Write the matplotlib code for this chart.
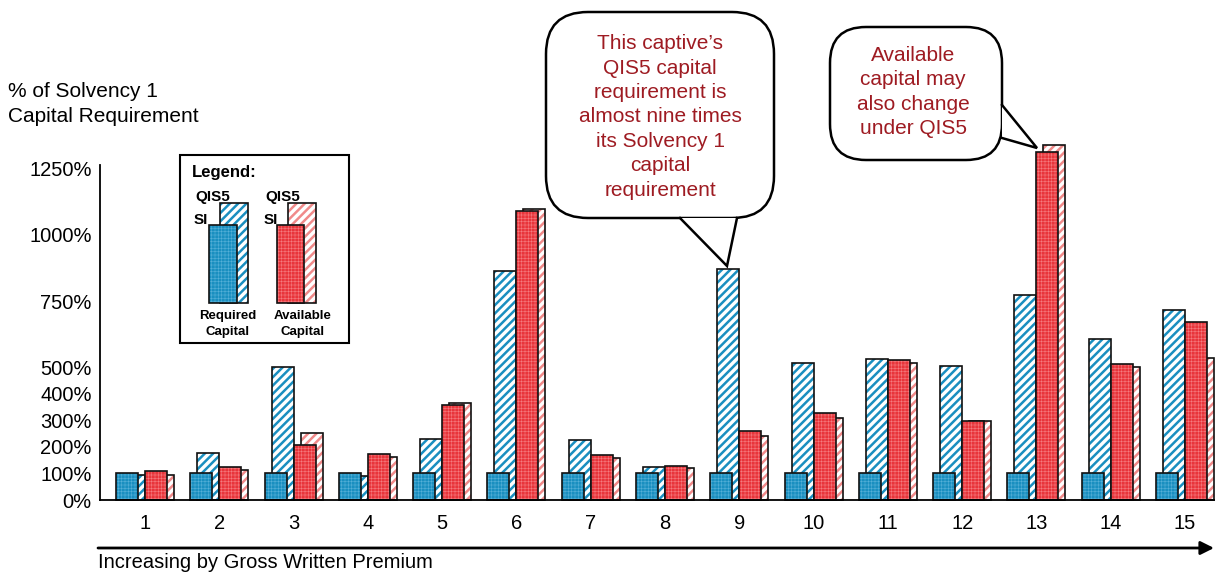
import numpy as np
import matplotlib
matplotlib.use("Agg")
import matplotlib.pyplot as plt
from matplotlib.patches import Rectangle, FancyBboxPatch, Polygon

plt.rcParams['font.family'] = ['Liberation Sans', 'DejaVu Sans']
plt.rcParams['hatch.linewidth'] = 1.8

# captives, ordered by gross written premium
captives = [str(i) for i in range(1, 16)]
si_required = [100, 100, 100, 100, 100, 100, 100, 100, 100, 100, 100, 100, 100, 100, 100]
qis5_required = [95, 178, 503, 92, 230, 864, 226, 125, 872, 518, 532, 505, 773, 608, 717]
si_available = [110, 125, 208, 174, 358, 1090, 170, 128, 262, 328, 528, 298, 1313, 513, 672]
qis5_available = [95, 113, 253, 162, 365, 1098, 158, 120, 243, 308, 517, 298, 1340, 502, 536]
ytick_vals = [0, 100, 200, 300, 400, 500, 750, 1000, 1250]

BLUE = '#1a8fc0'
BLUE_GRID = '#55b0d8'
RED = '#e8353b'
RED_GRID = '#f57b7f'
PINK = '#f08a8a'
TXT_RED = '#9e1b22'

W, H = 1215, 572
fig = plt.figure(figsize=(W / 100, H / 100), dpi=100)
ax = fig.add_axes([100 / W, 72 / H, (W - 100) / W, (500 - 165) / H])

x = np.arange(1, 16)
bw = 0.296


def set_hlw(patches, lw):
    for p in patches:
        if hasattr(p, 'set_hatch_linewidth'):
            p.set_hatch_linewidth(lw)


def solid_bars(xs, hs, face, grid):
    ax.bar(xs, hs, bw, align='edge', color=face, lw=0, clip_on=False, zorder=2)
    b = ax.bar(xs, hs, bw, align='edge', color='none', edgecolor=grid, hatch='+++++',
               lw=0, clip_on=False, zorder=2)
    set_hlw(b, 0.4)
    ax.bar(xs, hs, bw, align='edge', fill=False, edgecolor='#111111', lw=1.2,
           clip_on=False, zorder=2)


def striped_bars(xs, hs, stripe):
    ax.bar(xs, hs, bw, align='edge', color='white', lw=0, clip_on=False, zorder=2)
    b = ax.bar(xs, hs, bw, align='edge', color='none', edgecolor=stripe, hatch='////',
               lw=0, clip_on=False, zorder=2)
    set_hlw(b, 1.8)
    ax.bar(xs, hs, bw, align='edge', fill=False, edgecolor='#111111', lw=1.2,
           clip_on=False, zorder=2)


# QIS5 bars sit behind and slightly right of the Solvency I bars
striped_bars(x - 0.296, qis5_required, BLUE)
solid_bars(x - 0.39, si_required, BLUE, BLUE_GRID)
striped_bars(x + 0.094, qis5_available, PINK)
solid_bars(x, si_available, RED, RED_GRID)

ax.set_xlim(1 - 45 / 74.3, 15 + 30 / 74.3)
ax.set_ylim(0, 1264)
ax.set_xticks(x)
ax.set_xticklabels(captives)
ax.set_yticks(ytick_vals)
ax.set_yticklabels([f'{v}%' for v in ytick_vals])
ax.tick_params(axis='both', length=0, labelsize=14.5)
ax.tick_params(axis='x', pad=10)
ax.tick_params(axis='y', pad=6)
for s in ['top', 'right']:
    ax.spines[s].set_visible(False)
for s in ['left', 'bottom']:
    ax.spines[s].set_linewidth(1.3)
ax.set_facecolor('none')

# overlay in pixel coordinates for annotations
ov = fig.add_axes([0, 0, 1, 1], zorder=5)
ov.set_xlim(0, W)
ov.set_ylim(H, 0)
ov.axis('off')

ov.text(8, 104, '% of Solvency 1\nCapital Requirement', ha='left', va='center',
        fontsize=15, linespacing=1.38)

ov.annotate('', xy=(1214, 548), xytext=(98, 548),
            arrowprops=dict(arrowstyle='-|>', lw=2, color='black', mutation_scale=20,
                            shrinkA=0, shrinkB=0))
ov.text(98, 563, 'Increasing by Gross Written Premium', ha='left', va='center',
        fontsize=14.5)

# legend box
ov.add_patch(Rectangle((180, 155), 169, 188, fill=False, edgecolor='black', lw=1.5))
ov.text(192, 173, 'Legend:', ha='left', va='center', fontsize=12, fontweight='bold')


def legend_bar(x0, y0, x1, y1, face, hatch, hcolor, hlw):
    ov.add_patch(Rectangle((x0, y0), x1 - x0, y1 - y0, facecolor=face, lw=0))
    r = ov.add_patch(Rectangle((x0, y0), x1 - x0, y1 - y0, facecolor='none',
                               edgecolor=hcolor, hatch=hatch, lw=0))
    set_hlw([r], hlw)
    ov.add_patch(Rectangle((x0, y0), x1 - x0, y1 - y0, fill=False, edgecolor='#111111', lw=1.2))


legend_bar(220, 203, 248, 303, 'white', '////', BLUE, 1.8)
legend_bar(209, 225, 237, 303, BLUE, '+++++', BLUE_GRID, 0.4)
legend_bar(288, 203, 316, 303, 'white', '////', PINK, 1.8)
legend_bar(277, 225, 304, 303, RED, '+++++', RED_GRID, 0.4)
for lx in (195, 265):
    ov.text(lx, 197, 'QIS5', ha='left', va='center', fontsize=11, fontweight='bold')
    ov.text(lx - 1, 220, 'SI', ha='left', va='center', fontsize=11, fontweight='bold')
ov.text(228, 324, 'Required\nCapital', ha='center', va='center', fontsize=9.5,
        fontweight='bold', linespacing=1.4)
ov.text(303, 324, 'Available\nCapital', ha='center', va='center', fontsize=9.5,
        fontweight='bold', linespacing=1.4)


def bubble(x0, y0, x1, y1, rad, tail):
    ov.add_patch(FancyBboxPatch((x0, y0), x1 - x0, y1 - y0,
                                boxstyle=f'round,pad=0,rounding_size={rad}',
                                facecolor='white', edgecolor='black', lw=1.8))
    ov.add_patch(Polygon(tail, closed=True, facecolor='white', edgecolor='none'))
    ov.plot([tail[0][0], tail[1][0], tail[2][0]], [tail[0][1], tail[1][1], tail[2][1]],
            color='black', lw=1.8, solid_joinstyle='miter')


bubble(546, 12, 774, 218, 42, [(680, 218), (727, 266), (737, 218)])
ov.text(660, 117, "This captive\u2019s\nQIS5 capital\nrequirement is\nalmost nine times\n"
        "its Solvency 1\ncapital\nrequirement", ha='center', va='center',
        fontsize=15, color=TXT_RED, linespacing=1.36)

bubble(830, 27, 1002, 160, 36, [(1002, 105), (1037, 148), (1002, 138)])
ov.text(913, 92, 'Available\ncapital may\nalso change\nunder QIS5', ha='center',
        va='center', fontsize=15, color=TXT_RED, linespacing=1.36)

fig.savefig('out.png', dpi=100)
